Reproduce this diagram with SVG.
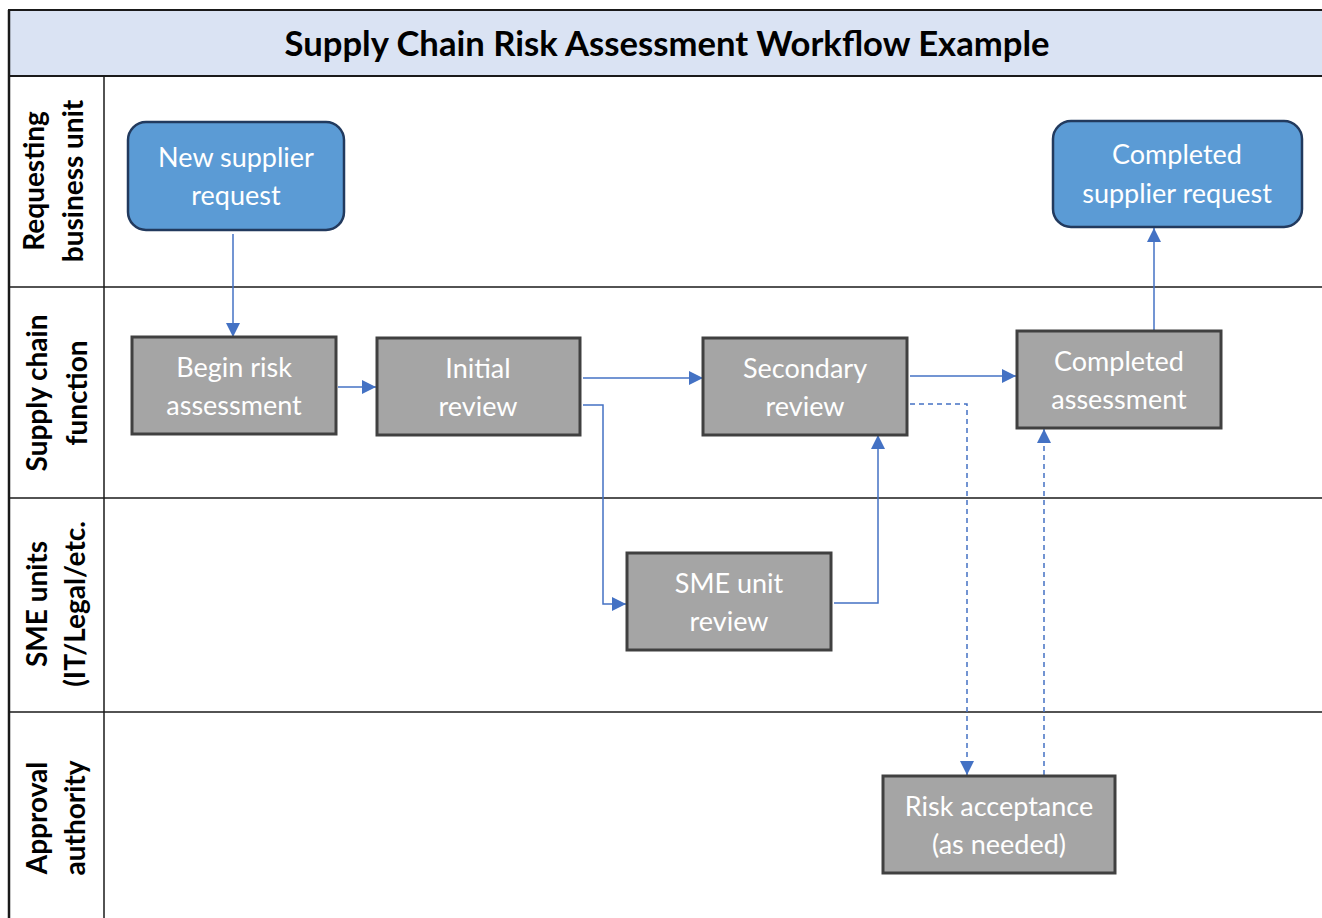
<svg xmlns="http://www.w3.org/2000/svg" width="1322" height="918" viewBox="0 0 1322 918">
  <style>
    .frame { fill: none; stroke: #1a1a1a; stroke-width: 2; }
    .lane-line { stroke: #1a1a1a; stroke-width: 1.5; }
    .title { font-family: Lato, "Liberation Sans", sans-serif; font-weight: bold; font-size: 34px; fill: #000; text-anchor: middle; }
    .lane-label { font-family: Lato, "Liberation Sans", sans-serif; font-weight: bold; font-size: 28px; fill: #000; text-anchor: middle; }
    .start { fill: #5b9bd5; stroke: #223a5e; stroke-width: 2.5; }
    .step { fill: #a5a5a5; stroke: #404040; stroke-width: 3; }
    .label { font-family: Lato, "Liberation Sans", sans-serif; font-size: 27px; fill: #ffffff; text-anchor: middle; }
    .flow { fill: none; stroke: #4472c4; stroke-width: 1.5; }
    .dashed { stroke-dasharray: 5 4; }
  </style>
  <defs>
    <marker id="arrowhead" viewBox="0 0 14 14" refX="14" refY="7" markerWidth="14" markerHeight="14" markerUnits="userSpaceOnUse" orient="auto">
      <path d="M0,0 L14,7 L0,14 Z" fill="#4472c4"/>
    </marker>
  </defs>

  <rect width="1322" height="918" fill="#ffffff"/>

  <!-- Title band -->
  <g id="header">
    <rect x="9" y="10" width="1320" height="66" fill="#dae3f3" stroke="#1a1a1a" stroke-width="2"/>
    <text class="title" x="667" y="56" textLength="765" lengthAdjust="spacingAndGlyphs">Supply Chain Risk Assessment Workflow Example</text>
  </g>

  <!-- Swimlane grid -->
  <g id="lanes">
    <line class="lane-line" x1="9" y1="10" x2="9" y2="918" style="stroke-width:2.5"/>
    <line class="lane-line" x1="104" y1="76" x2="104" y2="918"/>
    <line class="lane-line" x1="9" y1="287" x2="1322" y2="287"/>
    <line class="lane-line" x1="9" y1="498" x2="1322" y2="498"/>
    <line class="lane-line" x1="9" y1="712" x2="1322" y2="712"/>
    <text class="lane-label" transform="translate(0,181) rotate(-90)"><tspan x="0" y="44">Requesting</tspan><tspan x="0" y="83">business unit</tspan></text>
    <text class="lane-label" transform="translate(0,393) rotate(-90)"><tspan x="0" y="47">Supply chain</tspan><tspan x="0" y="87">function</tspan></text>
    <text class="lane-label" transform="translate(0,604) rotate(-90)"><tspan x="0" y="47">SME units</tspan><tspan x="0" y="85">(IT/Legal/etc.</tspan></text>
    <text class="lane-label" transform="translate(0,818) rotate(-90)"><tspan x="0" y="47">Approval</tspan><tspan x="0" y="85">authority</tspan></text>
  </g>

  <!-- Connectors -->
  <g id="connectors">
    <path class="flow" d="M233,234 L233,337" marker-end="url(#arrowhead)"/>
    <path class="flow" d="M338,387 L376,387" marker-end="url(#arrowhead)"/>
    <path class="flow" d="M583,378 L703,378" marker-end="url(#arrowhead)"/>
    <path class="flow" d="M583,405 L603,405 L603,604 L626,604" marker-end="url(#arrowhead)"/>
    <path class="flow" d="M834,603 L878,603 L878,435" marker-end="url(#arrowhead)"/>
    <path class="flow" d="M910,376 L1016,376" marker-end="url(#arrowhead)"/>
    <path class="flow dashed" d="M910,404 L967,404 L967,775" marker-end="url(#arrowhead)"/>
    <path class="flow dashed" d="M1044,775 L1044,429" marker-end="url(#arrowhead)"/>
    <path class="flow" d="M1154,330 L1154,228" marker-end="url(#arrowhead)"/>
  </g>

  <!-- Nodes -->
  <g id="new-supplier-request">
    <rect class="start" x="128" y="122" width="216" height="108" rx="18"/>
    <text class="label"><tspan x="236" y="167">New supplier</tspan><tspan x="236" y="205">request</tspan></text>
  </g>
  <g id="completed-supplier-request">
    <rect class="start" x="1053" y="121" width="249" height="106" rx="18"/>
    <text class="label"><tspan x="1177" y="164">Completed</tspan><tspan x="1177" y="203">supplier request</tspan></text>
  </g>
  <g id="begin-risk-assessment">
    <rect class="step" x="132" y="337" width="204" height="97"/>
    <text class="label"><tspan x="234" y="377">Begin risk</tspan><tspan x="234" y="415">assessment</tspan></text>
  </g>
  <g id="initial-review">
    <rect class="step" x="377" y="338" width="203" height="97"/>
    <text class="label"><tspan x="478" y="378">Initial</tspan><tspan x="478" y="416">review</tspan></text>
  </g>
  <g id="secondary-review">
    <rect class="step" x="703" y="338" width="204" height="97"/>
    <text class="label"><tspan x="805" y="378">Secondary</tspan><tspan x="805" y="416">review</tspan></text>
  </g>
  <g id="completed-assessment">
    <rect class="step" x="1017" y="331" width="204" height="97"/>
    <text class="label"><tspan x="1119" y="371">Completed</tspan><tspan x="1119" y="409">assessment</tspan></text>
  </g>
  <g id="sme-unit-review">
    <rect class="step" x="627" y="553" width="204" height="97"/>
    <text class="label"><tspan x="729" y="593">SME unit</tspan><tspan x="729" y="631">review</tspan></text>
  </g>
  <g id="risk-acceptance">
    <rect class="step" x="883" y="776" width="232" height="97"/>
    <text class="label"><tspan x="999" y="816">Risk acceptance</tspan><tspan x="999" y="854">(as needed)</tspan></text>
  </g>
</svg>
